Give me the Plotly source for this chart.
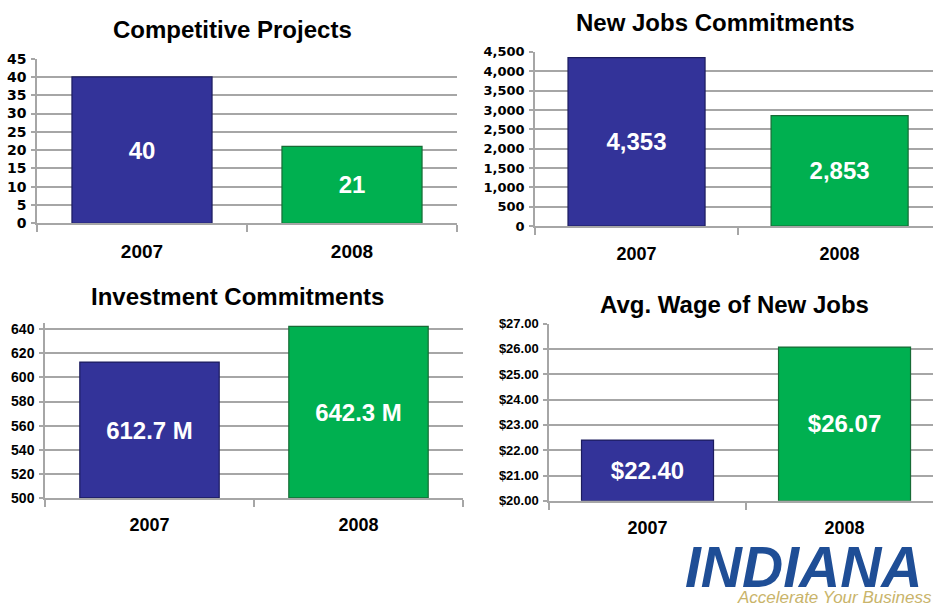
import plotly.graph_objects as go

years = ["2007", "2008"]
projects = [40, 21]
jobs = [4353, 2853]
investment = [612.7, 642.3]
wage = [22.40, 26.07]

projects_text = ["40", "21"]
jobs_text = ["4,353", "2,853"]
investment_text = ["612.7 M", "642.3 M"]
wage_text = ["$22.40", "$26.07"]

titles = ["Competitive Projects", "New Jobs Commitments", "Investment Commitments", "Avg. Wage of New Jobs"]

BLUE = "#333399"
GREEN = "#00B050"
BLUE_EDGE = "#1c1c5e"
GREEN_EDGE = "#176b35"
GRID = "#a6a6a6"
FONT = "Liberation Sans"
WIDE = "DejaVu Sans"

W, H = 933, 615

def px_x(a, b):
    return [a / W, min(b / W, 1.0)]

def px_y(top, bottom):
    return [1 - bottom / H, 1 - top / H]

fig = go.Figure()

panels = [
    dict(vals=projects, text=projects_text, xd=px_x(37, 457), yd=px_y(52, 221),
         xr=[-0.5, 1.5], yr=[0, 45], dtick=5, fmt="d", bw=0.667,
         tfam=WIDE, tfs=14, cfs=19),
    dict(vals=jobs, text=jobs_text, xd=px_x(535, 933), yd=px_y(45, 224),
         xr=[-0.5, 1.46], yr=[0, 4500], dtick=500, fmt=",d", bw=0.675,
         tfam=WIDE, tfs=13, cfs=18),
    dict(vals=investment, text=investment_text, xd=px_x(45, 463), yd=px_y(323, 503),
         xr=[-0.5, 1.5], yr=[500, 645.5], dtick=20, fmt="d", bw=0.667,
         tfam=FONT, tfs=14, cfs=18),
    dict(vals=wage, text=wage_text, xd=px_x(549, 933), yd=px_y(324, 506),
         xr=[-0.5, 1.449], yr=[20, 27], dtick=1, fmt="$.2f", bw=0.67,
         tfam=FONT, tfs=13, cfs=18),
]

layout = {}
for i, p in enumerate(panels, start=1):
    xa = "x" if i == 1 else f"x{i}"
    ya = "y" if i == 1 else f"y{i}"
    floor = p["yr"][0]
    fig.add_trace(go.Bar(
        x=years, y=[v - floor for v in p["vals"]], base=floor, text=p["text"],
        textposition="inside", insidetextanchor="middle",
        textfont=dict(family=FONT, size=24, color="white", weight="bold"),
        marker=dict(color=[BLUE, GREEN], line=dict(color=[BLUE_EDGE, GREEN_EDGE], width=1.2)),
        width=p["bw"], xaxis=xa, yaxis=ya, showlegend=False, hoverinfo="skip",
    ))
    xkey = "xaxis" if i == 1 else f"xaxis{i}"
    ykey = "yaxis" if i == 1 else f"yaxis{i}"
    layout[xkey] = dict(
        domain=p["xd"], anchor=ya, type="category", range=p["xr"],
        showgrid=False, showline=True, linecolor=GRID, linewidth=1.5,
        ticks="outside", tickson="boundaries", ticklen=7, tickcolor=GRID, tickwidth=1.5,
        tickfont=dict(family=FONT, size=p["cfs"], color="black", weight="bold"),
        ticklabelstandoff=10, fixedrange=True,
    )
    layout[ykey] = dict(
        domain=p["yd"], anchor=xa, range=p["yr"], dtick=p["dtick"], tick0=p["yr"][0],
        tickformat=p["fmt"], showgrid=True, gridcolor=GRID, gridwidth=2,
        showline=True, linecolor=GRID, linewidth=1.5, zeroline=False,
        ticks="outside", ticklen=4, tickcolor=GRID, tickwidth=1.5,
        tickfont=dict(family=p["tfam"], size=p["tfs"], color="black", weight="bold"),
        ticklabelstandoff=2, fixedrange=True,
    )

title_pos = [(232, 22), (715, 15), (237, 296), (734, 304)]
annotations = []
for t, (cx, cy) in zip(titles, title_pos):
    annotations.append(dict(
        text=t, x=cx / W, y=1 - cy / H, xref="paper", yref="paper",
        xanchor="center", yanchor="middle", showarrow=False,
        font=dict(family=FONT, size=24, color="black", weight="bold"),
    ))

annotations.append(dict(
    text="<i><b>INDIANA</b></i>", x=684 / W, y=1 - 574 / H, xref="paper", yref="paper",
    xanchor="left", yanchor="middle", showarrow=False, borderpad=0,
    font=dict(family=FONT, size=57, color="#1f4e96"),
))
annotations.append(dict(
    text="<i>Accelerate Your Business</i>", x=736 / W, y=1 - 605 / H, xref="paper", yref="paper",
    xanchor="left", yanchor="middle", showarrow=False, borderpad=0,
    font=dict(family=FONT, size=17, color="#c9b46a"),
))

fig.update_layout(
    width=W, height=H, margin=dict(l=0, r=0, t=0, b=0),
    paper_bgcolor="white", plot_bgcolor="white",
    annotations=annotations, **layout,
)

fig.write_html("out.html", config={"displayModeBar": False},
               post_script="document.body.style.margin='0';document.body.style.overflow='hidden';")
